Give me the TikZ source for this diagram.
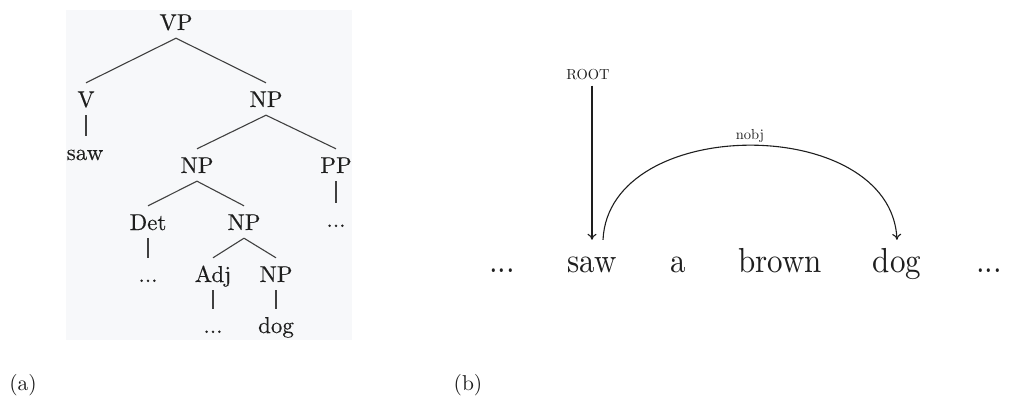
\documentclass[tikz,border=0pt]{standalone}
\usepackage{fontspec}
\usepackage{graphicx}
\newfontfamily\tenrm{lmroman10-regular.otf}
\newfontfamily\treerm{lmroman10-regular.otf}[FakeBold=0.3]
\usetikzlibrary{arrows.meta,calc}
\definecolor{treebg}{RGB}{247,248,250}
\definecolor{ink}{RGB}{30,30,30}
\newcommand{\tallw}[1]{\scalebox{1}[1.12]{#1}}
\begin{document}
\begin{tikzpicture}[x=1pt,y=-1pt,
  tree/.style={font=\treerm\fontsize{23}{27}\selectfont, text=ink, text height=16pt, text depth=0pt, inner xsep=1pt, inner ysep=8pt, anchor=base},
  edge/.style={draw=black!75, line width=1.1pt},
  word/.style={font=\tenrm\fontsize{31}{36}\selectfont, text=ink, text height=24pt, text depth=0pt, inner xsep=1pt, inner ysep=8pt, anchor=base},
  lab/.style={font=\tenrm\fontsize{14.5}{17}\selectfont, text=ink, anchor=base, inner xsep=1pt, inner ysep=6pt},
  capt/.style={font=\tenrm\fontsize{21.5}{25}\selectfont, text=ink, anchor=base, inner sep=1pt},
  dep/.style={draw=ink, line width=1.1pt, -{To[length=6pt,width=9pt]}},
]
\useasboundingbox (0,0) rectangle (1014,396);
\fill[treebg] (66,10) rectangle (352,340);
% tree (a)
\node[tree] (vp) at (176,30) {VP};
\node[tree] (v) at (86,107) {V};
\node[tree] (np1) at (266,107) {NP};
\node[tree] (saw1) at (85,160) {saw};
\node[tree] (np2) at (197,173) {NP};
\node[tree] (pp) at (336,173) {PP};
\node[tree] (det) at (148,230) {Det};
\node[tree] (np3) at (244,230) {NP};
\node[tree] (ppd) at (336,227) {...};
\node[tree] (detd) at (148,282) {...};
\node[tree] (adj) at (213,282) {Adj};
\node[tree] (np4) at (276,282) {NP};
\node[tree] (adjd) at (213,333) {...};
\node[tree] (dog1) at (276,333) {dog};
\draw[edge] (vp.south) -- (v.north);
\draw[edge] (vp.south) -- (np1.north);
\draw[edge] (v.south) -- (saw1.north -| v.south);
\draw[edge] (np1.south) -- (np2.north);
\draw[edge] (np1.south) -- (pp.north);
\draw[edge] (pp.south) -- (ppd.north);
\draw[edge] (np2.south) -- (det.north);
\draw[edge] (np2.south) -- (np3.north);
\draw[edge] (det.south) -- (detd.north);
\draw[edge] (np3.south) -- (adj.north);
\draw[edge] (np3.south) -- (np4.north);
\draw[edge] (adj.south) -- (adjd.north);
\draw[edge] (np4.south) -- (dog1.north);
% dependency (b)
\node[word] (d1) at (502,272) {\tallw{...}};
\node[word] (saw) at (592,272) {\tallw{saw}};
\node[word] (a) at (678,272) {\tallw{a}};
\node[word] (brown) at (780,272) {\tallw{brown}};
\node[word] (dog) at (897,272) {\tallw{dog}};
\node[word] (d2) at (989,272) {\tallw{...}};
\node[lab] (root) at (588,79) {ROOT};
\node[lab] (nobj) at (750,139) {nobj};
\draw[dep] (saw.north |- root.south) -- (saw.north);
\coordinate (arcs) at ([xshift=11pt]saw.north);
\draw[dep] (arcs) .. controls ($(arcs)+(6,-126)$) and ($(dog.north)+(-6,-126)$) .. (dog.north);
% captions
\node[capt] (capa) at (23,390) {(a)};
\node[capt] (capb) at (468,390) {(b)};
\end{tikzpicture}
\end{document}
